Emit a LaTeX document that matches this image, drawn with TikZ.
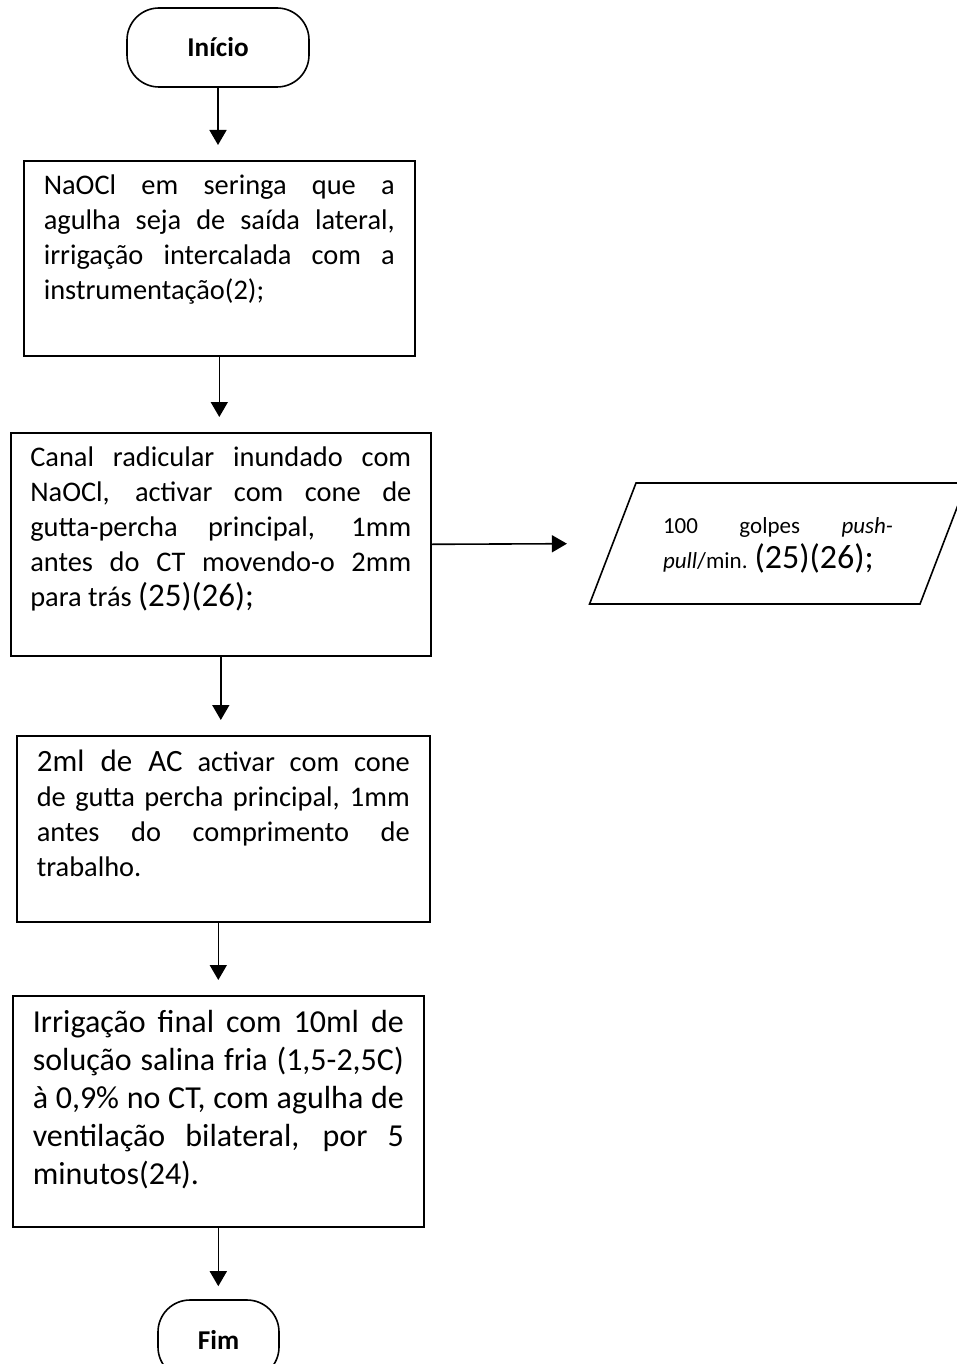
\documentclass[tikz,border=0pt]{standalone}
\usepackage{fontspec}
\setmainfont{Carlito}
\usetikzlibrary{arrows.meta,shapes.geometric}
\hyphenpenalty=10000
\exhyphenpenalty=10000
\newcommand{\refbig}[1]{{\fontsize{16.5}{17.5}\selectfont #1}}

\begin{document}
\begin{tikzpicture}[x=0.5pt,y=-0.5pt,
  flow/.style={-{Triangle[length=7.5pt,width=8.5pt]},line width=0.8pt,shorten >=7.5pt},
  term/.style={draw,rectangle,rounded corners=16pt,minimum width=91pt,minimum height=39.5pt,line width=0.8pt,font=\fontsize{13.6}{15}\selectfont\bfseries},
  stepbox/.style={draw,rectangle,line width=0.8pt,anchor=north west,align=justify,inner ysep=0pt,inner xsep=10pt,font=\fontsize{14.2}{17.5}\selectfont},
  iobox/.style={draw,trapezium,trapezium left angle=69,trapezium right angle=111,line width=0.8pt,align=justify,inner ysep=0pt,inner xsep=13.5pt,font=\fontsize{11.5}{17.5}\selectfont}]
\path[fill=white,use as bounding box] (0,0) rectangle (957,1364);
\node[term] (inicio) at (218,47.5) {Início};
\node[stepbox,text width=175.5pt,text height=17pt,text depth=80.5pt] (seringa) at (23,160) {NaOCl em seringa que a\linebreak agulha seja de saída lateral,\linebreak irrigação intercalada com a\linebreak instrumentação(2);};
\node[stepbox,text width=190.5pt,inner xsep=9.75pt,text height=17pt,text depth=94.5pt] (canal) at (10,432) {Canal radicular inundado com\linebreak NaOCl, activar com cone de\linebreak gutta-percha principal, 1mm\linebreak antes do CT movendo-o 2mm\linebreak para trás \refbig{(25)(26);}};
\node[iobox,text width=115pt,text height=25pt,text depth=35.5pt] (golpes) at (778,543.5) {100 golpes \textit{push-}\linebreak \textit{pull}/min. {\fontsize{17}{17.5}\selectfont(25)(26);}};
\node[stepbox,text width=186.5pt,text height=18pt,text depth=75pt] (activacao) at (16,735) {{\fontsize{15.5}{17.5}\selectfont 2ml de AC} activar com cone\linebreak de gutta percha principal, 1mm\linebreak antes do comprimento de\linebreak trabalho.};
\node[stepbox,text width=185.5pt,text height=18.5pt,text depth=97pt,font=\fontsize{16}{19}\selectfont] (final) at (12,995) {Irrigação final com 10ml de\linebreak solução salina fria (1,5-2,5C)\linebreak à 0,9\% no CT, com agulha de\linebreak ventilação bilateral, por 5\linebreak minutos(24).};
\node[term,minimum width=60.5pt] (fim) at (218.5,1339.5) {Fim};
% setas
\draw[flow] (inicio.south) -- (inicio.south |- seringa.north);
\draw[flow] (seringa.south) -- (seringa.south |- canal.north);
\draw[flow] (canal.south) -- (canal.south |- activacao.north);
\draw[flow] (activacao.south -| final.north) -- (final.north);
\draw[flow,shorten >=6.5pt] (final.south) -- (final.south |- fim.north);
\draw[flow,shorten >=22.5pt] (canal.east) -- (golpes.left side);
\end{tikzpicture}
\end{document}
